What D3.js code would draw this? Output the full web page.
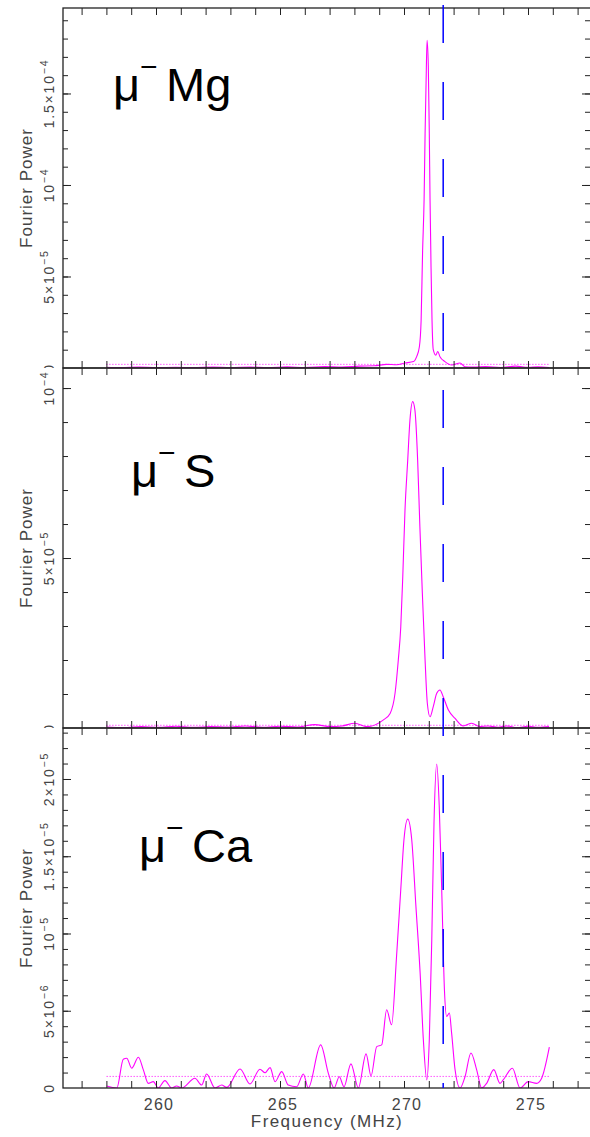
<!DOCTYPE html>
<html>
<head>
<meta charset="utf-8">
<script src="https://cdn.jsdelivr.net/npm/d3@7"></script>
<style>
  body { margin: 0; background: #fff; }
  svg { display: block; font-family: "Liberation Sans", Arial, sans-serif; }
</style>
</head>
<body>
<svg id="chart" width="590" height="1137"></svg>
<script>
// frequency axis, MHz
var freqDomain = [256.25, 277.54];
var freqMinorTicks = d3.range(257, 278, 1);
var freqLabels = [260, 265, 270, 275];
var muonFreq = 271.58; // blue dashed marker

// mu- Mg (power in units of 1e-5)
var freqMg = [258.0, 258.6, 259.3, 260.0, 260.8, 261.5, 262.3, 263.0, 263.8, 264.5, 265.3, 266.0, 266.8, 267.5, 268.2, 268.8, 269.3, 269.7, 270.04, 270.38, 270.51, 270.62, 270.69, 270.75, 270.81, 270.85, 270.89, 270.93, 270.98, 271.02, 271.05, 271.09, 271.13, 271.18, 271.28, 271.36, 271.45, 271.65, 271.92, 272.26, 272.46, 272.8, 273.3, 273.9, 274.5, 275.0, 275.4, 275.85];
var powerMg = [0.04, 0.02, 0.05, 0.02, 0.04, 0.02, 0.05, 0.03, 0.05, 0.02, 0.06, 0.03, 0.08, 0.05, 0.1, 0.12, 0.2, 0.18, 0.27, 0.35, 0.62, 1.16, 2.6, 6.4, 9.2, 12.8, 15.6, 17.9, 16.5, 12.8, 9.2, 5.5, 2.6, 1.0, 0.7, 0.9, 0.62, 0.35, 0.16, 0.27, 0.07, 0.05, 0.08, 0.03, 0.1, 0.04, 0.06, 0.03];

// mu- S (power in units of 1e-5)
var freqS = [258.0, 258.7, 259.4, 260.1, 260.8, 261.5, 262.2, 262.9, 263.6, 264.3, 265.0, 265.7, 266.4, 267.02, 267.5, 268.02, 268.5, 269.17, 269.44, 269.64, 269.77, 269.87, 269.95, 270.04, 270.15, 270.24, 270.35, 270.44, 270.55, 270.64, 270.74, 270.85, 270.94, 271.05, 271.18, 271.32, 271.45, 271.58, 271.79, 272.06, 272.39, 272.73, 273.06, 273.39, 273.8, 274.14, 274.55, 275.0, 275.4, 275.85];
var powerS = [0.03, 0.01, 0.04, 0.02, 0.05, 0.02, 0.04, 0.03, 0.06, 0.02, 0.05, 0.03, 0.1, 0.04, 0.06, 0.14, 0.04, 0.24, 0.43, 1.03, 2.0, 2.98, 4.45, 6.41, 7.88, 9.06, 9.6, 9.35, 7.88, 5.92, 3.96, 2.0, 0.73, 0.33, 0.63, 1.02, 1.12, 0.92, 0.53, 0.28, 0.06, 0.14, 0.04, 0.06, 0.02, 0.06, 0.01, 0.05, 0.02, 0.04];

// mu- Ca (power in units of 1e-6)
var freqCa = [258.01, 258.42, 258.68, 258.82, 259.02, 259.29, 259.49, 259.69, 259.89, 260.09, 260.36, 260.63, 260.83, 261.04, 261.57, 261.84, 262.04, 262.38, 262.65, 262.85, 263.39, 263.79, 264.19, 264.4, 264.6, 264.8, 265.07, 265.33, 265.67, 265.94, 266.14, 266.64, 266.95, 267.18, 267.39, 267.58, 267.86, 268.16, 268.47, 268.67, 268.9, 269.1, 269.3, 269.5, 269.7, 269.87, 270.0, 270.15, 270.31, 270.48, 270.65, 270.78, 270.92, 271.02, 271.12, 271.21, 271.32, 271.42, 271.52, 271.63, 271.72, 271.83, 271.92, 272.06, 272.26, 272.46, 272.7, 272.93, 273.13, 273.33, 273.62, 273.87, 274.0, 274.37, 274.68, 275.01, 275.35, 275.55, 275.86];
var powerCa = [0.13, 0.0, 1.86, 1.93, 1.28, 1.99, 1.17, 0.3, 0.41, 0.0, 0.48, 0.0, 0.13, 0.0, 0.63, 0.19, 0.91, 0.0, 0.19, 0.04, 1.23, 0.26, 1.21, 0.99, 1.32, 0.41, 1.06, 0.19, 0.08, 0.91, 0.0, 2.79, 0.95, 0.0, 0.73, 0.08, 1.56, 0.0, 2.21, 0.78, 2.68, 2.79, 5.06, 4.09, 8.53, 12.86, 16.1, 17.4, 16.1, 11.77, 7.45, 3.12, 0.52, 3.12, 9.61, 17.19, 20.97, 18.27, 12.86, 6.36, 4.63, 4.85, 3.55, 1.17, 0.0, 0.73, 2.27, 1.17, 0.0, 0.3, 1.19, 0.3, 0.52, 1.28, 0.0, 0.41, 0.3, 0.63, 2.64];

// y tick labels: [value, mantissa, exponent]
var labelsMg = [[0, "0", ""], [5, "5×10", "−5"], [10, "10", "−4"], [15, "1.5×10", "−4"]];
var labelsS = [[0, "0", ""], [5, "5×10", "−5"], [10, "10", "−4"]];
var labelsCa = [[0, "0", ""], [5, "5×10", "−6"], [10, "10", "−5"], [15, "1.5×10", "−5"], [20, "2×10", "−5"]];

var panels = [
  {name: "Mg", freq: freqMg, power: powerMg, yMax: 19.67, minor: d3.range(1, 20), major: [5, 10, 15], labels: labelsMg, noise: 0.2, lx: 113, ly: 101},
  {name: "S", freq: freqS, power: powerS, yMax: 10.59, minor: d3.range(1, 11), major: [5, 10], labels: labelsS, noise: 0.08, lx: 131, ly: 487},
  {name: "Ca", freq: freqCa, power: powerCa, yMax: 23.3, minor: d3.range(1, 24), major: [5, 10, 15, 20], labels: labelsCa, noise: 0.75, lx: 139, ly: 862}
];

var svg = d3.select("#chart");
var left = 63, right = 591, top0 = 8, ph = 360;
var axisColor = "#222", textColor = "#444";

var x = d3.scaleLinear().domain(freqDomain).range([left, right]);

panels.forEach(function(p, i){
  var top = top0 + i * ph, bottom = top + ph;
  p.y = d3.scaleLinear().domain([0, p.yMax]).range([bottom, top]);

  svg.append("clipPath").attr("id", "clip" + i)
    .append("rect").attr("x", left).attr("y", top).attr("width", right - left).attr("height", ph);
  svg.append("clipPath").attr("id", "lclip" + i)
    .append("rect").attr("x", 0).attr("y", top - 20).attr("width", left).attr("height", ph + 20);

  var g = svg.append("g");

  // noise level (dotted)
  g.append("line")
    .attr("clip-path", "url(#clip" + i + ")")
    .attr("x1", x(p.freq[0])).attr("x2", x(p.freq[p.freq.length - 1]))
    .attr("y1", p.y(p.noise)).attr("y2", p.y(p.noise))
    .attr("stroke", "#ff00ff").attr("stroke-width", 1).attr("stroke-dasharray", "1,2");

  var line = d3.line()
    .x(function(d){ return x(d[0]); })
    .y(function(d){ return p.y(d[1]); })
    .curve(d3.curveMonotoneX);

  g.append("path")
    .datum(d3.zip(p.freq, p.power))
    .attr("clip-path", "url(#clip" + i + ")")
    .attr("d", line)
    .attr("fill", "none")
    .attr("stroke", "#ff00ff")
    .attr("stroke-width", 1.1);

  // ticks, all pointing inward
  function ticks(axis, tr){
    var a = g.append("g").attr("transform", tr).call(axis);
    a.select(".domain").remove();
    a.selectAll("line").attr("stroke", axisColor);
    a.selectAll("text").remove();
  }
  ticks(d3.axisBottom(x).tickValues(freqMinorTicks).tickSize(-7), "translate(0," + bottom + ")");
  ticks(d3.axisTop(x).tickValues(freqMinorTicks).tickSize(-7), "translate(0," + top + ")");
  ticks(d3.axisLeft(p.y).tickValues(p.minor).tickSize(-5), "translate(" + left + ",0)");
  ticks(d3.axisLeft(p.y).tickValues(p.major).tickSize(-8), "translate(" + left + ",0)");
  ticks(d3.axisRight(p.y).tickValues(p.minor).tickSize(-5), "translate(" + (right - 1) + ",0)");
  ticks(d3.axisRight(p.y).tickValues(p.major).tickSize(-8), "translate(" + (right - 1) + ",0)");

  g.append("rect")
    .attr("x", left).attr("y", top).attr("width", right - left).attr("height", ph)
    .attr("fill", "none").attr("stroke", axisColor).attr("stroke-width", 1.3);

  // y tick labels, rotated
  var lab = g.append("g").attr("clip-path", i < 2 ? "url(#lclip" + i + ")" : null)
    .selectAll("text").data(p.labels).enter().append("text")
    .attr("transform", function(d){ return "translate(54," + p.y(d[0]) + ") rotate(-90)"; })
    .attr("text-anchor", "middle")
    .attr("font-size", 14)
    .attr("letter-spacing", 1.8)
    .attr("fill", textColor);
  lab.append("tspan").text(function(d){ return d[1]; });
  lab.append("tspan").attr("font-size", 10.5).attr("dy", -6).text(function(d){ return d[2]; });

  g.append("text")
    .attr("transform", "translate(32," + (top + ph / 2) + ") rotate(-90)")
    .attr("text-anchor", "middle")
    .attr("font-size", 17)
    .attr("letter-spacing", 1)
    .attr("fill", textColor)
    .text("Fourier Power");

  // panel label
  var t = g.append("text").attr("y", p.ly).attr("fill", "#000").attr("font-size", 47);
  t.append("tspan").attr("x", p.lx).text("μ");
  t.append("tspan").attr("x", p.lx + 27).attr("dy", -24).attr("font-size", 30).text("−");
  t.append("tspan").attr("x", p.lx + 53).attr("dy", 24).text(p.name);
});

// muon frequency marker across all panels
var lastY = panels[2].y;
svg.append("line")
  .attr("x1", x(muonFreq)).attr("x2", x(muonFreq))
  .attr("y1", panels[0].y(panels[0].yMax) - 3).attr("y2", lastY(0))
  .attr("stroke", "#0000ff").attr("stroke-width", 1.5)
  .attr("stroke-dasharray", "38,39");

// x axis labels
var base = lastY(0);
svg.append("g").selectAll("text").data(freqLabels).enter().append("text")
  .attr("x", function(d){ return x(d) + 3; })
  .attr("y", base + 22)
  .attr("text-anchor", "middle")
  .attr("font-size", 16)
  .attr("letter-spacing", 1.2)
  .attr("fill", textColor)
  .text(function(d){ return d; });

svg.append("text")
  .attr("x", (left + right) / 2)
  .attr("y", base + 39)
  .attr("text-anchor", "middle")
  .attr("font-size", 17)
  .attr("letter-spacing", 1.4)
  .attr("fill", textColor)
  .text("Frequency (MHz)");
</script>
</body>
</html>
